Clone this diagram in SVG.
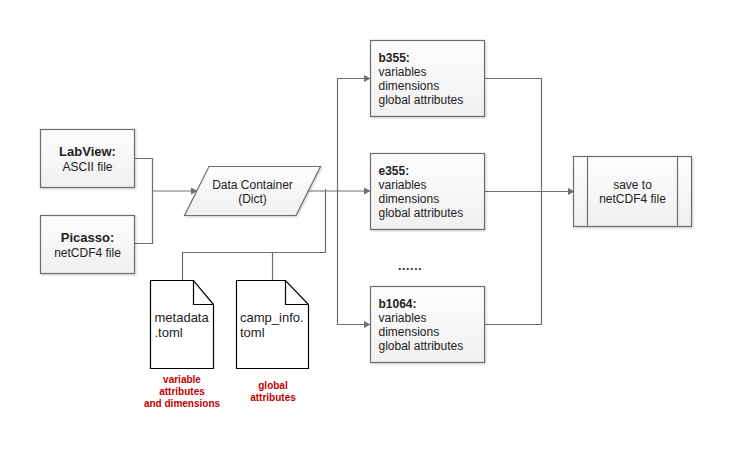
<svg xmlns="http://www.w3.org/2000/svg" width="732" height="449" viewBox="0 0 732 449">
<style>
text{font-family:"Liberation Sans",Arial,sans-serif;font-size:12px;fill:#222}
.b{font-weight:bold}
.m{text-anchor:middle}
.box{fill:url(#g);stroke:#6e6e6e;stroke-width:1.2;filter:url(#s)}
.c{fill:none;stroke:#6e6e6e;stroke-width:1.2}
.doc{fill:#fff;stroke:#000;stroke-width:1.2}
.fold{fill:none;stroke:#000;stroke-width:1.2}
.r{font-size:10px;font-weight:bold;fill:#c00000;text-anchor:middle}
.t{font-size:13px}
</style>
<defs>
<linearGradient id="g" x1="0" y1="0" x2="0" y2="1"><stop offset="0" stop-color="#fdfdfd"/><stop offset="1" stop-color="#f0f0f0"/></linearGradient>
<filter id="s" x="-5%" y="-5%" width="112%" height="112%"><feDropShadow dx="1" dy="1" stdDeviation="0.8" flood-color="#000" flood-opacity="0.2"/></filter>
<marker id="a" markerUnits="userSpaceOnUse" markerWidth="7" markerHeight="8" refX="6" refY="4" orient="auto"><path d="M0 0.500L6.500 4L0 7.500Z" fill="#6e6e6e"/></marker>
</defs>
<rect width="732" height="449" fill="#fff"/>
<g id="connectors">
<path class="c" d="M135 158.500H152.500V243.500H135"/>
<path class="c" d="M152.500 191H197" marker-end="url(#a)"/>
<path class="c" d="M308 191H370" marker-end="url(#a)"/>
<path class="c" d="M325.500 189V252.500H182.500V281"/>
<path class="c" d="M272.500 252.500V281"/>
<path class="c" d="M370 78.500H337.500V324.500H370" marker-end="url(#a)"/>
<path class="c" d="M337.500 78.500H370" marker-end="url(#a)"/>
<path class="c" d="M485 78.500H541.500V324.500H485"/>
<path class="c" d="M485 191.500H574" marker-end="url(#a)"/>
</g>
<g id="labview"><rect class="box" x="40.500" y="129.500" width="94" height="58"/><text class="m b" x="87.500" y="156" style="font-size:13px">LabView:</text><text class="m" x="87.500" y="171">ASCII file</text></g>
<g id="picasso"><rect class="box" x="40.500" y="215.500" width="94" height="58"/><text class="m b" x="87.500" y="242" style="font-size:13px">Picasso:</text><text class="m" x="87.500" y="257">netCDF4 file</text></g>
<g id="container"><path class="box" d="M209 166.500H320.500L296 215.500H184.500Z"/><text class="m" x="252.500" y="189">Data Container</text><text class="m" x="252.500" y="203">(Dict)</text></g>
<g id="metadata"><path class="doc" d="M150.500 280.500H193.500L213.500 304.500V368.500H150.500Z"/><path class="fold" d="M193.500 280.500V304.500H213.500"/><text class="t" x="154.500" y="322">metadata</text><text class="t" x="154.500" y="337">.toml</text></g>
<g id="campinfo"><path class="doc" d="M236.500 280.500H285.500L308.500 304.500V368.500H236.500Z"/><path class="fold" d="M285.500 280.500V304.500H308.500"/><text class="t" x="240" y="322">camp_info.</text><text class="t" x="240" y="337">toml</text></g>
<g id="b355"><rect class="box" x="370.500" y="40.500" width="114" height="76"/><text class="b" x="378.500" y="62">b355:</text><text x="378.500" y="76">variables</text><text x="378.500" y="90">dimensions</text><text x="378.500" y="104">global attributes</text></g>
<g id="e355"><rect class="box" x="370.500" y="153.500" width="114" height="76"/><text class="b" x="378.500" y="175">e355:</text><text x="378.500" y="189">variables</text><text x="378.500" y="203">dimensions</text><text x="378.500" y="217">global attributes</text></g>
<g id="b1064"><rect class="box" x="370.500" y="286.500" width="114" height="76"/><text class="b" x="378.500" y="308">b1064:</text><text x="378.500" y="322">variables</text><text x="378.500" y="336">dimensions</text><text x="378.500" y="350">global attributes</text></g>
<g id="save"><rect class="box" x="573.500" y="156.500" width="118" height="70"/><path class="c" d="M587.500 156.500V226.500M677.500 156.500V226.500"/><text class="m" x="632.500" y="189">save to</text><text class="m" x="632.500" y="203">netCDF4 file</text></g>
<text class="b" x="398" y="270" style="letter-spacing:.7px">......</text>
<g id="notes"><text class="r" x="182" y="383">variable</text><text class="r" x="182" y="395">attributes</text><text class="r" x="182" y="407">and dimensions</text><text class="r" x="273" y="389">global</text><text class="r" x="273" y="401">attributes</text></g>
</svg>
